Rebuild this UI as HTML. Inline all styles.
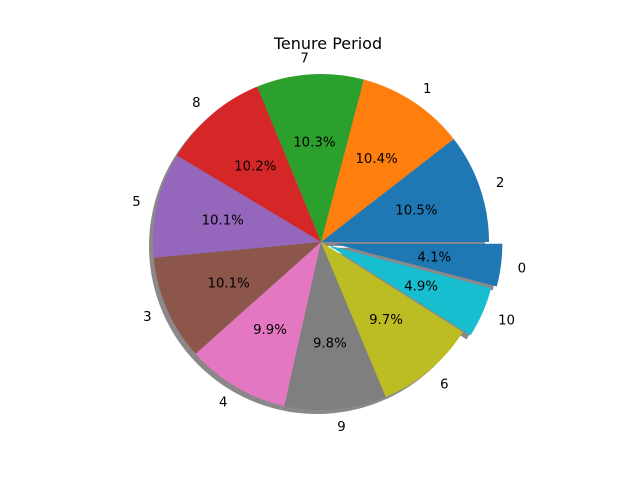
<!DOCTYPE html>
<html><head><meta charset="utf-8"><style>
body{margin:0;background:#fff;}
svg{display:block;font-family:"DejaVu Sans","Liberation Sans",sans-serif;}
</style></head><body>
<svg id="chart" width="640" height="480" viewBox="0 0 640 480">
<rect width="640" height="480" fill="#fff"/>
<text x="328" y="49" font-size="16" text-anchor="middle">Tenure Period</text>
<g id="shadows"></g>
<g id="wedges"></g>
<g id="labels"></g>
</svg>
<script>
const categories = ["2","1","7","8","5","3","4","9","6","10","0"];
const percents = [10.5,10.4,10.3,10.2,10.1,10.1,9.9,9.8,9.7,4.9,4.1];
const pctLabels = ["10.5%","10.4%","10.3%","10.2%","10.1%","10.1%","9.9%","9.8%","9.7%","4.9%","4.1%"];
const explode = [0,0,0,0,0,0,0,0,0,0.05,0.08];
const colors = ["#1f77b4","#ff7f0e","#2ca02c","#d62728","#9467bd","#8c564b","#e377c2","#7f7f7f","#bcbd22","#17becf","#1f77b4"];
const cx=321, cy=242, R=168;
const NS="http://www.w3.org/2000/svg";
const total=percents.reduce((a,b)=>a+b,0);
function pt(a,r,ox,oy){return [ox+r*Math.cos(a), oy-r*Math.sin(a)];}
function wedgePath(a0,a1,ox,oy){
  const p0=pt(a0,R,ox,oy), p1=pt(a1,R,ox,oy);
  const large=(a1-a0)>Math.PI?1:0;
  return `M${ox},${oy} L${p0[0]},${p0[1]} A${R},${R} 0 ${large} 0 ${p1[0]},${p1[1]} Z`;
}
const sh=document.getElementById('shadows'), wg=document.getElementById('wedges'), lb=document.getElementById('labels');
let acc=0;
percents.forEach((v,i)=>{
  const a0=acc/total*2*Math.PI; acc+=v; const a1=acc/total*2*Math.PI;
  const mid=(a0+a1)/2;
  const ox=cx+explode[i]*R*Math.cos(mid), oy=cy-explode[i]*R*Math.sin(mid);
  const s=document.createElementNS(NS,'path');
  s.setAttribute('d',wedgePath(a0,a1,ox-4,oy+4));
  s.setAttribute('fill','#8c8889');
  
  
  sh.appendChild(s);
  const w=document.createElementNS(NS,'path');
  w.setAttribute('d',wedgePath(a0,a1,ox,oy));
  w.setAttribute('fill',colors[i]);
  
  
  wg.appendChild(w);
  const lp=pt(mid,R*1.1,ox,oy);
  const t=document.createElementNS(NS,'text');
  t.setAttribute('x',lp[0]); t.setAttribute('y',lp[1]+5);
  t.setAttribute('font-size','13.3');
  t.setAttribute('text-anchor',Math.cos(mid)>0?'start':'end');
  t.textContent=categories[i];
  
  
  lb.appendChild(t);
  const pp=pt(mid,R*0.6,ox,oy);
  const q=document.createElementNS(NS,'text');
  q.setAttribute('x',pp[0]); q.setAttribute('y',pp[1]+5);
  q.setAttribute('font-size','13.3');
  q.setAttribute('text-anchor','middle');
  q.textContent=pctLabels[i];
  
  
  lb.appendChild(q);
});
</script>
</body></html>
